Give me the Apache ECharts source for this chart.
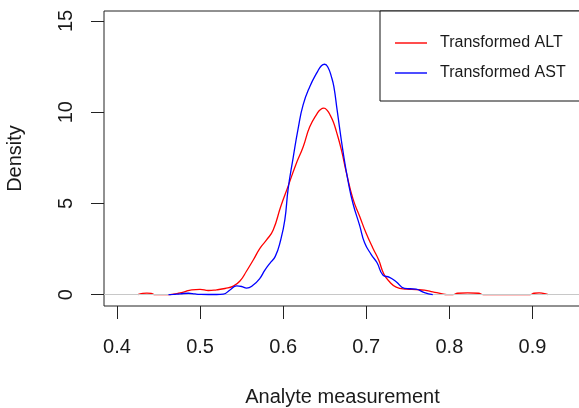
<!DOCTYPE html>
<html>
<head>
<meta charset="utf-8">
<script src="https://cdn.jsdelivr.net/npm/echarts@6/dist/echarts.min.js"></script>
<style>
  html, body { margin: 0; padding: 0; background: #fff; }
  #chart { width: 579px; height: 408px; }
</style>
</head>
<body>
<div id="chart"></div>
<script>
// density estimates
var altX = [0.425, 0.431, 0.436, 0.441, 0.446, 0.462, 0.468, 0.474, 0.48, 0.49, 0.50, 0.51, 0.52, 0.53, 0.54,
    0.548, 0.556, 0.564, 0.572, 0.58, 0.588, 0.597, 0.606, 0.615, 0.624, 0.632, 0.641, 0.645, 0.649, 0.653,
    0.657, 0.6605, 0.664, 0.670, 0.676, 0.684, 0.692, 0.70, 0.708, 0.715, 0.721, 0.728, 0.736, 0.748, 0.76,
    0.77, 0.78, 0.79, 0.797, 0.804, 0.81, 0.822, 0.835, 0.841, 0.897, 0.902, 0.908, 0.913, 0.919];
var altY = [0, 0.07, 0.09, 0.07, 0, 0, 0.03, 0.08, 0.14, 0.27, 0.29, 0.23, 0.27, 0.34, 0.47,
    0.75, 1.3, 1.9, 2.54, 3.0, 3.55, 4.82, 5.95, 7.1, 8.1, 9.2, 9.94, 10.15, 10.22, 10.1,
    9.8, 9.45, 8.95, 7.95, 6.7, 5.25, 4.3, 3.35, 2.55, 1.9, 1.15, 0.71, 0.42, 0.31, 0.28,
    0.25, 0.16, 0.06, 0, 0, 0.08, 0.1, 0.08, 0, 0, 0.08, 0.1, 0.07, 0];

var astX = [0.462, 0.468, 0.476, 0.486, 0.494, 0.50, 0.51, 0.52, 0.528, 0.536, 0.544, 0.55, 0.556, 0.564,
    0.572, 0.578, 0.584, 0.5905, 0.597, 0.602, 0.606, 0.612, 0.618, 0.624, 0.632, 0.641, 0.646, 0.650,
    0.654, 0.658, 0.661, 0.665, 0.672, 0.678, 0.684, 0.692, 0.698, 0.706, 0.713, 0.72, 0.728, 0.736,
    0.746, 0.76, 0.77, 0.78];
var astY = [0, 0.02, 0.05, 0.08, 0.04, 0.02, 0.01, 0.01, 0.03, 0.26, 0.48, 0.45, 0.36, 0.53,
    0.9, 1.35, 1.72, 2.1, 3.0, 4.1, 5.8, 7.5, 9.1, 10.4, 11.4, 12.2, 12.55, 12.63,
    12.45, 11.95, 11.4, 10.1, 7.85, 6.25, 5.0, 3.8, 2.85, 2.2, 1.75, 1.08, 0.95, 0.71,
    0.35, 0.3, 0.11, 0];

var xTicks = [0.4, 0.5, 0.6, 0.7, 0.8, 0.9];
var yTicks = [0, 5, 10, 15];

function pairs(xs, ys) {
    return xs.map(function (x, i) { return [x, ys[i]]; });
}

var chart = echarts.init(document.getElementById('chart'), null, {renderer: 'canvas'});
var font = '"Liberation Sans", Arial, sans-serif';
var ink = '#1a1a1a';

var option = {
    animation: false,
    backgroundColor: '#fff',
    textStyle: {fontFamily: font},
    grid: {
        left: 104,
        top: 11,
        right: -2,
        bottom: 102,
        show: true,
        borderColor: '#222',
        borderWidth: 1,
        containLabel: false,
        outerBoundsMode: 'none'
    },
    legend: {
        orient: 'vertical',
        left: 380,
        top: 11,
        padding: [23, 20, 19, 15],
        itemGap: 12,
        itemWidth: 32,
        itemHeight: 1.4,
        icon: 'rect',
        backgroundColor: '#fff',
        borderColor: '#111',
        borderWidth: 1,
        borderRadius: 0,
        textStyle: {
            fontFamily: font,
            fontSize: 16,
            color: ink,
            lineHeight: 18,
            padding: [0, 0, 0, 8]
        },
        data: ['Transformed ALT', 'Transformed AST']
    },
    xAxis: {
        type: 'value',
        min: 0.3844,
        max: 0.9584,
        name: 'Analyte measurement',
        nameLocation: 'middle',
        nameGap: 81,
        nameTextStyle: {fontFamily: font, fontSize: 20, color: ink},
        axisLine: {show: false, onZero: false},
        axisTick: {
            show: true,
            inside: false,
            length: 13,
            customValues: xTicks,
            lineStyle: {color: '#222', width: 1}
        },
        axisLabel: {
            customValues: xTicks,
            margin: 31,
            fontFamily: font,
            fontSize: 20,
            color: ink,
            formatter: function (v) { return v.toFixed(1); }
        },
        splitLine: {show: false}
    },
    yAxis: {
        type: 'value',
        min: -0.619,
        max: 15.548,
        name: 'Density',
        nameLocation: 'middle',
        nameGap: 79,
        nameTextStyle: {fontFamily: font, fontSize: 20, color: ink},
        axisLine: {show: false},
        axisTick: {
            show: true,
            inside: false,
            length: 13,
            customValues: yTicks,
            lineStyle: {color: '#222', width: 1}
        },
        axisLabel: {
            customValues: yTicks,
            rotate: 90,
            margin: 28,
            fontFamily: font,
            fontSize: 20,
            color: ink
        },
        splitLine: {show: false}
    },
    series: [
        {
            name: 'Transformed ALT',
            type: 'line',
            z: 2,
            data: pairs(altX, altY),
            showSymbol: false,
            smooth: 0.5,
            color: '#ff0000',
            lineStyle: {color: '#ff0000', width: 1.3},
            markLine: {
                silent: true,
                symbol: 'none',
                z: 3,
                label: {show: false},
                lineStyle: {color: '#c8c8c8', type: 'solid', width: 1},
                data: [{yAxis: 0}]
            }
        },
        {
            name: 'Transformed AST',
            type: 'line',
            z: 4,
            data: pairs(astX, astY),
            showSymbol: false,
            smooth: 0.5,
            color: '#0000ff',
            lineStyle: {color: '#0000ff', width: 1.3}
        }
    ]
};

chart.setOption(option);
</script>
</body>
</html>
